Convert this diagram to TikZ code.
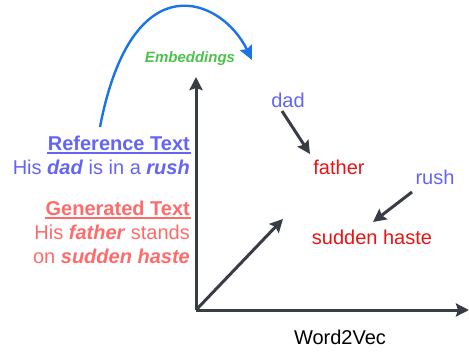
\documentclass[tikz,border=0pt]{standalone}
\usepackage{fontspec}
\setmainfont{Liberation Sans}
\usepackage{xcolor}
\usetikzlibrary{arrows.meta}

\definecolor{refblue}{HTML}{6464F5}
\definecolor{genred}{HTML}{FF6B6B}
\definecolor{wordred}{HTML}{E81414}
\definecolor{embgreen}{HTML}{4CC24C}
\definecolor{axisgray}{HTML}{383D45}
\definecolor{curveblue}{HTML}{1A73E8}

% heading with a thick underline
\newcommand{\headline}[1]{\setbox0\hbox{\textbf{#1}}\rlap{\kern-1pt\raisebox{-3.5pt}{\rule{\dimexpr\wd0+2pt\relax}{1.8pt}}}\box0}

\begin{document}
\begin{tikzpicture}[x=1pt, y=-1pt, every node/.style={inner sep=0pt, font=\fontsize{20}{24}\selectfont}]
    \useasboundingbox (0, 0) rectangle (469, 354);

    \coordinate (O) at (196, 310);
    \coordinate (Ytop) at (196, 77);
    \coordinate (Xend) at (469, 310);
    \coordinate (V) at (283, 219);

    % axes and the sentence vector
    \draw[-{Stealth[length=13pt, width=13pt, inset=2pt]}, line width=3pt, axisgray] (O) -- (Ytop);
    \draw[-{Stealth[length=13pt, width=13pt, inset=2pt]}, line width=3pt, axisgray] (O) -- (Xend);
    \draw[-{Stealth[length=13pt, width=13pt, inset=2pt]}, line width=3pt, axisgray] (O) -- (V);

    \node (w2v) at (340, 337) {Word2Vec};
    \node[font=\fontsize{15}{18}\selectfont\bfseries\itshape, text=embgreen] (emb) at (190, 59) {Embeddings};

    % words in the embedding space
    \node[text=refblue] (dad) at (288, 100) {dad};
    \node[text=wordred] (father) at (339, 167) {father};
    \node[text=refblue] (rush) at (435, 177) {rush};
    \node[text=wordred] (haste) at (372, 237) {sudden haste};

    \draw[-{Stealth[length=13pt, width=13pt, inset=2pt]}, line width=3pt, axisgray] (282, 111) -- (310, 154);
    \draw[-{Stealth[length=13pt, width=13pt, inset=2pt]}, line width=3pt, axisgray] (412, 192) -- (373, 222);

    % sentences on the left
    \node[anchor=east, align=right, text=refblue] (reftext) at (190, 155)
        {\headline{Reference Text}\\His \textbf{\textit{dad}} is in a \textbf{\textit{rush}}};
    \node[anchor=east, align=right, text=genred] (gentext) at (190, 232)
        {\headline{Generated Text}\\His \textbf{\textit{father}} stands\\on \textbf{\textit{sudden haste}}};

    \coordinate (S) at (100, 127);
    \coordinate (E) at (252, 60);
    \draw[-{Stealth[length=14pt, width=13pt, inset=2pt]}, line width=2.4pt, curveblue] (S) .. controls (132, -40) and (222, -2) .. (E);

\end{tikzpicture}
\end{document}
